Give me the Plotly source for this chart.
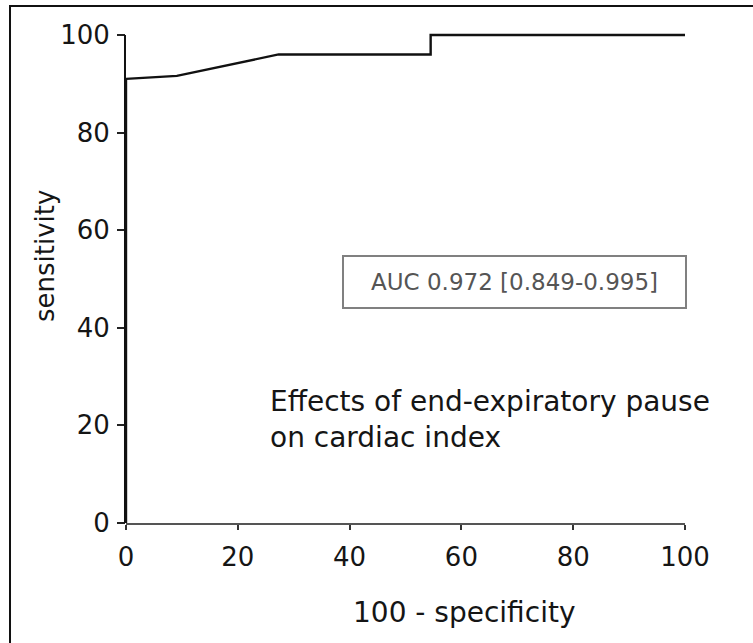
import plotly.graph_objects as go

# ROC curve points
fpr = [0, 0, 9.1, 27.3, 54.5, 54.5, 100]          # 100 - specificity
tpr = [0, 91.0, 91.6, 96.0, 96.0, 100, 100]       # sensitivity

x_ticks = [0, 20, 40, 60, 80, 100]
y_ticks = [0, 20, 40, 60, 80, 100]

auc_text = "AUC 0.972 [0.849-0.995]"
note_text = "Effects of end-expiratory pause<br>on cardiac index"
x_title = "100 - specificity"
y_title = "sensitivity"

FONT = "DejaVu Sans"
INK = "#151515"

# plot area: y=0 at pixel 523, y=100 at pixel 35 (4.88 px per unit)
Y_TOP = 100.6
T_MARGIN = 35 - round((Y_TOP - 100) * 4.88)
PH = 523 - T_MARGIN

def px_y(py):
    return (523 - py) / PH

def px_x(px):
    return (px - 126) / 559

fig = go.Figure()
fig.add_trace(go.Scatter(
    x=fpr, y=tpr, mode="lines",
    line=dict(color="#111111", width=2.4, shape="linear"),
    cliponaxis=False, showlegend=False, hoverinfo="skip",
))

fig.update_layout(
    width=753, height=643,
    margin=dict(l=126, r=68, t=T_MARGIN, b=120),
    paper_bgcolor="white", plot_bgcolor="white",
    font=dict(family=FONT, size=25, color=INK),
    xaxis=dict(
        range=[0, 100], tickvals=x_ticks, ticktext=[str(v) for v in x_ticks],
        showgrid=False, zeroline=False, showline=True, linecolor="#555555", linewidth=2,
        ticks="outside", ticklen=5, tickwidth=2, tickcolor="#333333",
        ticklabelstandoff=5, tickfont=dict(family=FONT, size=26, color=INK),
        fixedrange=True,
    ),
    yaxis=dict(
        range=[0, Y_TOP], tickvals=y_ticks, ticktext=[str(v) for v in y_ticks],
        showgrid=False, zeroline=False, showline=False,
        ticks="outside", ticklen=8, tickwidth=2, tickcolor="#222222",
        ticklabelstandoff=2, tickfont=dict(family=FONT, size=26, color=INK),
        fixedrange=True,
    ),
    shapes=[
        # outer frame (right/bottom edges fall outside the page)
        dict(type="rect", xref="paper", yref="paper",
             x0=-0.2075, x1=1.2, y0=-0.35, y1=px_y(6),
             line=dict(color="#111111", width=2), fillcolor="rgba(0,0,0,0)", layer="below"),
        # y axis line from 0 to 100 only
        dict(type="line", xref="paper", yref="y", x0=-0.0018, x1=-0.0018, y0=0, y1=100,
             line=dict(color="#111111", width=2)),
        # AUC box
        dict(type="rect", xref="paper", yref="paper",
             x0=px_x(343), x1=px_x(686), y0=px_y(308), y1=px_y(256),
             line=dict(color="#808080", width=2), fillcolor="rgba(0,0,0,0)"),
    ],
    annotations=[
        dict(text=auc_text, x=px_x(514), y=px_y(282), xref="paper", yref="paper",
             showarrow=False, xanchor="center", yanchor="middle",
             font=dict(family=FONT, size=23, color="#555555")),
        dict(text=note_text, x=25.4, y=21.3, xref="x", yref="y",
             showarrow=False, xanchor="left", yanchor="middle", align="left",
             font=dict(family=FONT, size=28, color=INK)),
        dict(text=x_title, x=px_x(464), y=px_y(612), xref="paper", yref="paper",
             showarrow=False, xanchor="center", yanchor="middle",
             font=dict(family=FONT, size=28, color=INK)),
        dict(text=y_title, x=px_x(45), y=px_y(256), xref="paper", yref="paper",
             showarrow=False, xanchor="center", yanchor="middle", textangle=-90,
             font=dict(family=FONT, size=26, color=INK)),
    ],
)

fig.write_html("out.html")
